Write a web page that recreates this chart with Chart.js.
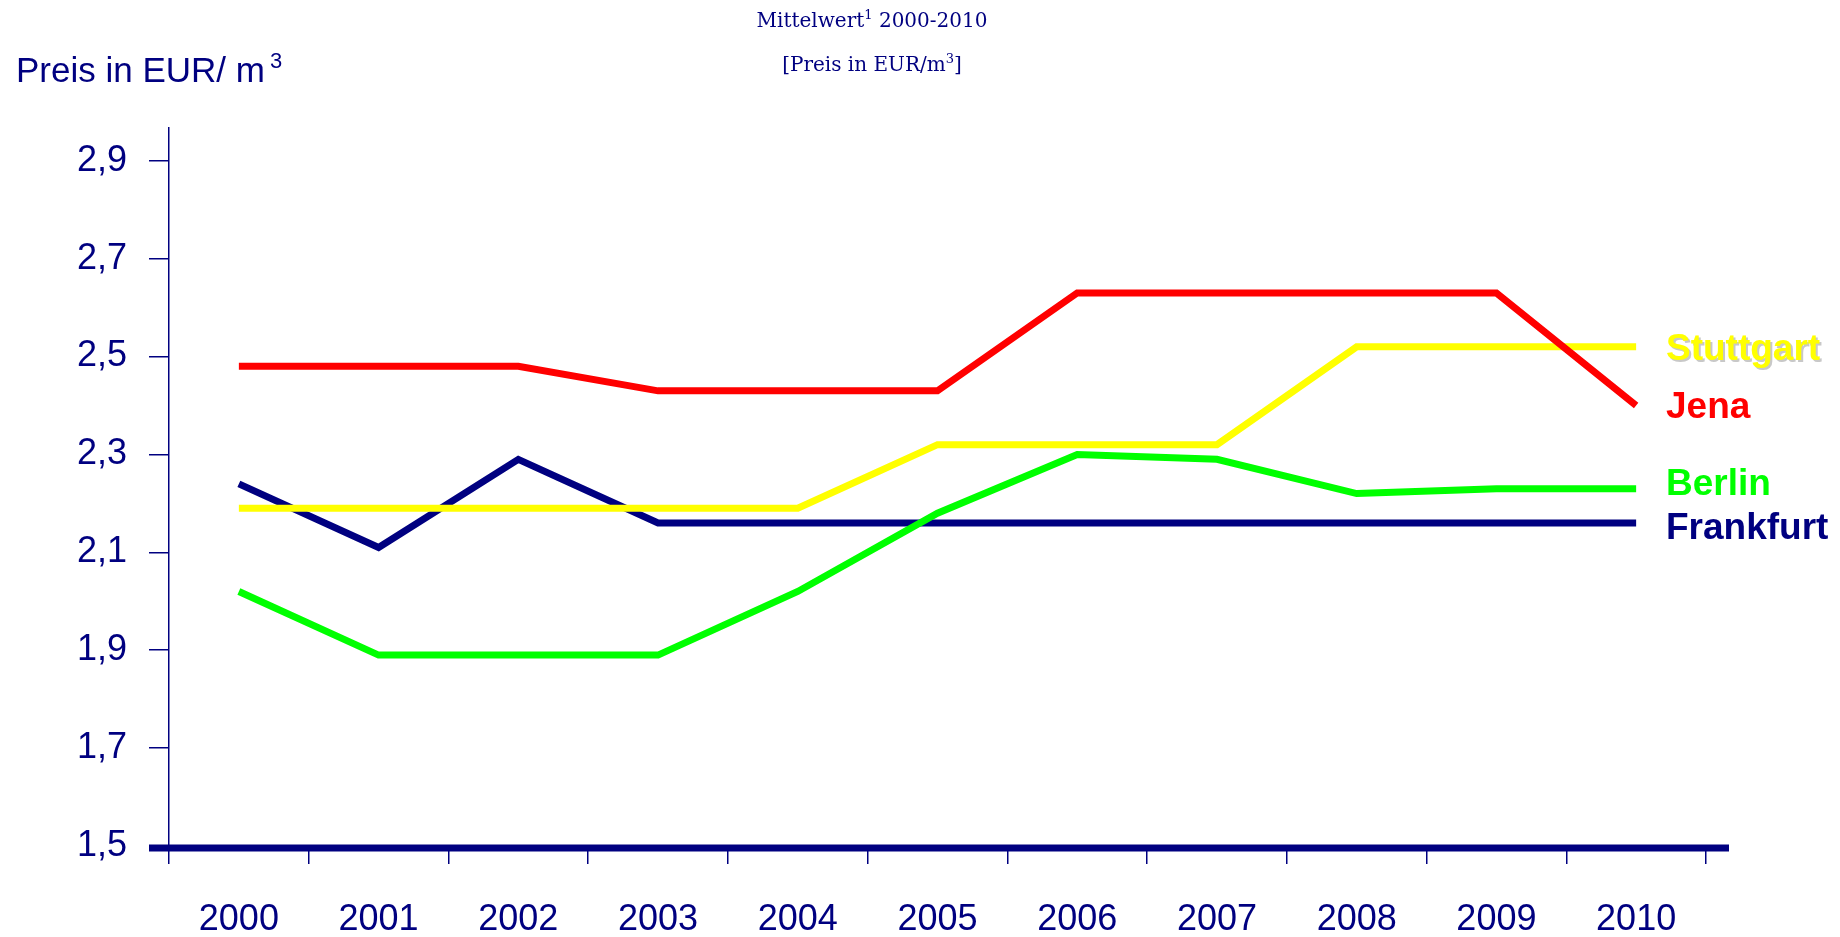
<!DOCTYPE html>
<html>
<head>
<meta charset="utf-8">
<script src="https://cdn.jsdelivr.net/npm/chart.js@4/dist/chart.umd.min.js"></script>
<style>
  body { margin:0; background:#fff; }
  canvas { display:block; }
</style>
</head>
<body>
<canvas id="priceChart" width="1840" height="937"></canvas>
<script>
/* data */
const years = ['2000','2001','2002','2003','2004','2005','2006','2007','2008','2009','2010'];
const jena      = [2.48, 2.48, 2.48, 2.43, 2.43, 2.43, 2.63, 2.63, 2.63, 2.63, 2.40];
const berlin    = [2.02, 1.89, 1.89, 1.89, 2.02, 2.18, 2.30, 2.29, 2.22, 2.23, 2.23];
const stuttgart = [2.19, 2.19, 2.19, 2.19, 2.19, 2.32, 2.32, 2.32, 2.52, 2.52, 2.52];
const frankfurt = [2.24, 2.11, 2.29, 2.16, 2.16, 2.16, 2.16, 2.16, 2.16, 2.16, 2.16];
const yTicks = [1.5, 1.7, 1.9, 2.1, 2.3, 2.5, 2.7, 2.9];

const NAVY = '#000080';

// drawn first in list = on top
const series = [
  { label:'Jena',      data:jena,      color:'#ff0000', nudge:2 },
  { label:'Berlin',    data:berlin,    color:'#00ff00', nudge:-4 },
  { label:'Stuttgart', data:stuttgart, color:'#ffff00', nudge:3, shadow:true },
  { label:'Frankfurt', data:frankfurt, color:NAVY,      nudge:6 }
];

/* extra drawing: headers, thick x axis, series names */
const decor = {
  id:'decor',
  afterDraw(chart){
    const ctx = chart.ctx, a = chart.chartArea, y = chart.scales.y;
    ctx.save();

    // thick base line
    ctx.strokeStyle = NAVY;
    ctx.lineWidth = 7;
    ctx.beginPath();
    ctx.moveTo(a.left - 20, a.bottom + 2);
    ctx.lineTo(a.right + 23, a.bottom + 2);
    ctx.stroke();

    // axis title top-left
    ctx.fillStyle = NAVY;
    ctx.textBaseline = 'alphabetic';
    ctx.textAlign = 'left';
    ctx.font = '35px "Liberation Sans", Arial, sans-serif';
    const t = 'Preis in EUR/ m';
    ctx.fillText(t, 16, 82);
    const w = ctx.measureText(t).width;
    ctx.font = '22px "Liberation Sans", Arial, sans-serif';
    ctx.fillText('3', 16 + w + 5, 68);

    // centred header (two lines, superscripts)
    function supLine(parts, cx, base){
      let total = 0;
      parts.forEach(p=>{ ctx.font = p.sup ? '13px "DejaVu Serif", serif' : '20px "DejaVu Serif", serif'; p.w = ctx.measureText(p.t).width; total += p.w; });
      let x = cx - total/2;
      parts.forEach(p=>{
        ctx.font = p.sup ? '13px "DejaVu Serif", serif' : '20px "DejaVu Serif", serif';
        ctx.fillText(p.t, x, p.sup ? base - 8 : base);
        x += p.w;
      });
    }
    supLine([{t:'Mittelwert'},{t:'1',sup:true},{t:' 2000-2010'}], 872, 27);
    supLine([{t:'[Preis in EUR/m'},{t:'3',sup:true},{t:']'}], 872, 71);

    // series names on the right
    ctx.font = 'bold 37px "Liberation Sans", Arial, sans-serif';
    ctx.textBaseline = 'middle';
    series.forEach(s=>{
      const py = y.getPixelForValue(s.data[s.data.length-1]) + s.nudge;
      if (s.shadow){
        ctx.fillStyle = '#c8c8c8';
        ctx.fillText(s.label, a.right - 38, py + 2);
      }
      ctx.fillStyle = s.color;
      ctx.fillText(s.label, a.right - 40, py);
    });
    ctx.restore();
  }
};

new Chart(document.getElementById('priceChart'), {
  type:'line',
  data:{
    labels: years,
    datasets: series.map(s=>({
      label:s.label, data:s.data,
      borderColor:s.color, backgroundColor:s.color,
      borderWidth:7, pointRadius:0, tension:0,
      borderJoinStyle:'miter', borderCapStyle:'butt', fill:false
    }))
  },
  options:{
    responsive:false,
    animation:false,
    layout:{ padding:{ top:128, right:134, bottom:0, left:0 } },
    plugins:{ legend:{display:false}, tooltip:{enabled:false} },
    scales:{
      x:{
        type:'category',
        offset:true,
        afterFit(s){ s.height = 91; },
        border:{ display:false },
        grid:{ offset:true, drawOnChartArea:false, drawTicks:true, tickLength:18, color:NAVY, lineWidth:1.5 },
        ticks:{ color:NAVY, padding:34, maxRotation:0, font:{ family:'"Liberation Sans", Arial, sans-serif', size:36 } }
      },
      y:{
        min:1.5, max:2.967,
        afterFit(s){ s.width = 169; },
        afterBuildTicks(s){ s.ticks = yTicks.map(v=>({value:v})); },
        border:{ display:true, color:NAVY, width:1.5 },
        grid:{ drawOnChartArea:false, drawTicks:true, tickLength:20, color:NAVY, lineWidth:1.5 },
        ticks:{
          color:NAVY, padding:22,
          font:{ family:'"Liberation Sans", Arial, sans-serif', size:36 },
          callback:v=>v.toFixed(1).replace('.', ',')
        }
      }
    }
  },
  plugins:[decor]
});
</script>
</body>
</html>
